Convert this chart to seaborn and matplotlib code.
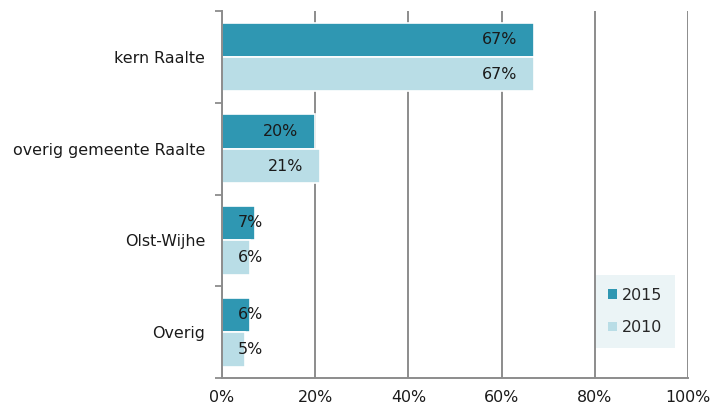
import matplotlib
matplotlib.use("Agg")
import matplotlib.pyplot as plt
from matplotlib.patches import Patch
import pandas as pd
import seaborn as sns

# Herkomst per gebied, aandeel in procenten
categories = ["kern Raalte", "overig gemeente Raalte", "Olst-Wijhe", "Overig"]
years = ["2015", "2010"]
values_2015 = [67, 20, 7, 6]
values_2010 = [67, 21, 6, 5]
x_ticks = [0, 20, 40, 60, 80, 100]

colors = {"2015": "#2F97B2", "2010": "#B9DDE6"}

df = pd.DataFrame({
    "gebied": categories * 2,
    "jaar": ["2015"] * len(categories) + ["2010"] * len(categories),
    "aandeel": values_2015 + values_2010,
})

sns.set_theme(style="white")
plt.rcParams["font.family"] = ["DejaVu Sans"]
FS = 11.4

fig = plt.figure(figsize=(7.13, 4.09), dpi=100)
ax = fig.add_axes([0.3114, 0.0758, 0.6536, 0.8972])

sns.barplot(data=df, y="gebied", x="aandeel", hue="jaar", hue_order=years,
            order=categories, palette=colors, orient="h", width=0.75, saturation=1,
            edgecolor="white", linewidth=1.2, ax=ax, legend=False, errorbar=None)

ax.set_xlim(0, 100)
ax.set_ylim(len(categories) - 0.5, -0.5)
ax.set_xticks(x_ticks)
ax.set_xticklabels([f"{t}%" for t in x_ticks], fontsize=FS, color="#1a1a1a")
ax.tick_params(axis="x", length=0, pad=9)
ax.tick_params(axis="y", which="major", length=0, pad=12, labelsize=FS, labelcolor="#1a1a1a")
ax.set_xlabel("")
ax.set_ylabel("")

# category separators as minor ticks on the y axis
ax.set_yticks([i - 0.5 for i in range(len(categories) + 1)], minor=True)
ax.tick_params(axis="y", which="minor", left=True, length=5, width=1.3,
               color="#8c8c8c", direction="out")

ax.grid(axis="x", color="#8c8c8c", linewidth=1.4)
ax.set_axisbelow(True)
for side in ["top", "right"]:
    ax.spines[side].set_visible(False)
for side in ["left", "bottom"]:
    ax.spines[side].set_color("#8c8c8c")
    ax.spines[side].set_linewidth(1.4)

# value labels inside the bar ends
offsets = {"2015": -0.19, "2010": 0.19}
for year, vals in zip(years, [values_2015, values_2010]):
    for i, v in enumerate(vals):
        y = i + offsets[year]
        if v >= 15:
            ax.text(v - 3.6, y, f"{v}%", ha="right", va="center", fontsize=FS, color="#1a1a1a")
        else:
            ax.text(3.4, y, f"{v}%", ha="left", va="center", fontsize=FS, color="#1a1a1a")

handles = [Patch(facecolor=colors[y], edgecolor="none", label=y) for y in years]
leg = ax.legend(handles=handles, loc="lower right", bbox_to_anchor=(0.972, 0.082),
                frameon=True, fontsize=FS, handlelength=0.55, handleheight=0.55,
                handletextpad=0.3, labelspacing=1.1, borderpad=0.8, borderaxespad=0,
                fancybox=False)
leg.get_frame().set_facecolor("#E6F2F4")
leg.get_frame().set_edgecolor("none")

fig.savefig("out.png", dpi=100)
